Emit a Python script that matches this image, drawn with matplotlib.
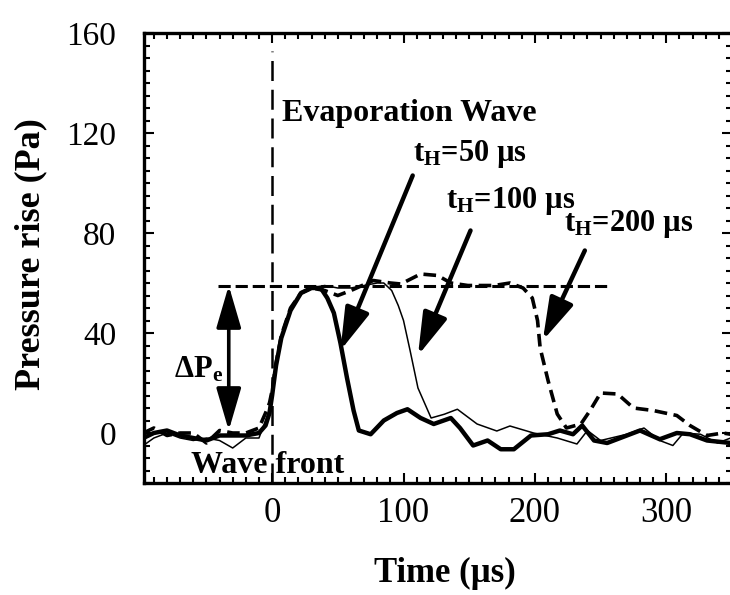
import matplotlib
matplotlib.use("Agg")
import matplotlib.pyplot as plt
from matplotlib.ticker import MultipleLocator

plt.rcParams['font.family'] = ['Liberation Serif', 'DejaVu Serif']
plt.rcParams['mathtext.fontset'] = 'custom'
plt.rcParams['mathtext.rm'] = 'Liberation Serif'
plt.rcParams['mathtext.bf'] = 'Liberation Serif:bold'
plt.rcParams['mathtext.it'] = 'Liberation Serif:italic'

# ---- data ----
t_50 = [-98, -90, -80, -70, -60, -50, -40, -30, -20, -10, -5, -2, 0, 3, 7, 14, 22, 30, 37, 42,
        47, 52, 57, 62, 66, 75, 85, 95, 103, 113, 123, 136, 143, 153, 164, 174, 184, 197, 210,
        219, 229, 236, 245, 255, 270, 280, 295, 308, 318, 331, 349]
p_50 = [-2, 0, 1, -1, -2, -3, -1, -1, -1, 0, 3, 8, 15, 27, 38, 49, 56, 58, 58, 54,
        48, 36, 22, 9, 1, -0.5, 5, 8, 9.5, 6, 3.6, 6, 2, -5, -3, -6.5, -6.5, -1, -0.5,
        1, -0.5, 3, -3, -4, -1, 1, -2.5, 0, -0.5, -3, -4]

t_100 = [-98, -90, -80, -70, -60, -50, -40, -30, -20, -10, -5, -2, 0, 3, 7, 14, 22, 30, 40, 50,
         60, 70, 80, 85, 91, 96, 100, 105, 111, 121, 131, 141, 156, 171, 181, 199, 217, 232,
         240, 250, 270, 283, 295, 305, 313, 326, 339, 349]
p_100 = [-5, -2, 0, -2, -3, -2, -3, -6, -2, -2, 5, 9, 15, 27, 38, 49, 56, 58, 59, 58,
         58, 59, 60, 60, 57, 51, 45, 33, 18, 6, 7.5, 9.5, 3.6, 0.8, 2.8, 0, -2, -4.4,
         1, -3, -0.5, 2, -3, -5, 0, -0.5, -4, -2]

t_200 = [-98, -90, -80, -70, -60, -50, -40, -30, -20, -10, -5, -2, 0, 3, 7, 14, 22, 30, 40, 50,
         60, 77, 90, 98, 113, 126, 136, 149, 169, 181, 191, 198, 202, 204, 210, 217, 224, 235,
         242, 250, 263, 275, 290, 308, 318, 331, 343, 349]
p_200 = [0, 2, -1, 0, 0, -4, 1, 0, 0, 2, 8, 12, 17, 28, 39, 50, 56, 58, 57, 55,
         57, 61, 60, 59.6, 63.6, 63, 60, 59, 59, 60, 58, 54, 45, 34, 21, 7.6, 2, 3.6,
         9, 16, 15.6, 10, 9, 7, 3, -1, 0, -0.5]

level_x = [-41, 257]
level_y = [59, 59]
dpe_x = -33
dpe_top, dpe_bottom = 59, 1

x_ticks = [0, 100, 200, 300]
y_ticks = [0, 40, 80, 120, 160]

# ---- figure ----
fig = plt.figure(figsize=(7.3, 5.95), dpi=100)
ax = fig.add_axes([144 / 730, (595 - 483) / 595, (732 - 144) / 730, (483 - 33) / 595])

ax.plot(t_100, p_100, color='black', lw=1.1, zorder=3)
ax.plot(t_200, p_200, color='black', lw=2.6, linestyle=(0, (3.5, 1.8)), zorder=3)
ax.plot(t_50, p_50, color='black', lw=3.2, zorder=4)

ax.plot(level_x, level_y, color='black', lw=2.2, linestyle=(0, (4, 1.6)), zorder=2)
ax.axvline(0, ymax=(153 + 20) / 180, color='black', lw=1.8, linestyle=(0, (8, 3.5)), zorder=2)

ax.set_xlim(-97.5, 350)
ax.set_ylim(-20, 160)
ax.set_xticks(x_ticks)
ax.set_yticks(y_ticks)
ax.xaxis.set_minor_locator(MultipleLocator(10))
ax.yaxis.set_minor_locator(MultipleLocator(5))
ax.tick_params(which='both', direction='in', top=True, right=True, width=1.5)
ax.tick_params(which='major', length=7)
ax.tick_params(which='minor', length=4)
ax.tick_params(axis='y', which='major', labelsize=24, pad=20)
ax.tick_params(axis='x', which='major', labelsize=25, pad=10)
for s in ax.spines.values():
    s.set_linewidth(2.4)
ax.spines['right'].set_visible(False)

ax.set_xlabel('Time (µs)', fontsize=25, fontweight='bold')
ax.set_ylabel('Pressure rise (Pa)', fontsize=26, fontweight='bold')
ax.xaxis.set_label_coords(0.512, -0.165)
ax.yaxis.set_label_coords(-0.165, 0.509)

# ---- annotations ----
fs = 22
ax.text(7.6, 125, 'Evaporation Wave', fontsize=fs + 1, fontweight='bold', va='baseline')
ax.text(107, 109, r'$\mathbf{t}_{\mathbf{H}}$=50 µs', fontsize=fs, fontweight='bold', va='baseline')
ax.text(132, 90, r'$\mathbf{t}_{\mathbf{H}}$=100 µs', fontsize=fs, fontweight='bold', va='baseline')
ax.text(222, 81, r'$\mathbf{t}_{\mathbf{H}}$=200 µs', fontsize=fs, fontweight='bold', va='baseline')
ax.text(-62, -16, 'Wave front', fontsize=fs + 1, fontweight='bold', va='baseline')
ax.text(-75, 22, r'$\mathbf{\Delta P_e}$', fontsize=fs, va='baseline')

aprops = dict(arrowstyle='-|>,head_length=1.3,head_width=0.38', lw=3.2, color='black',
              mutation_scale=20, shrinkA=0, shrinkB=0)
ax.annotate('', xy=(52, 33), xytext=(107, 103), arrowprops=aprops, zorder=5)
ax.annotate('', xy=(111, 31), xytext=(151, 81), arrowprops=aprops, zorder=5)
ax.annotate('', xy=(206, 37), xytext=(238, 73), arrowprops=aprops, zorder=5)
dprops = dict(arrowstyle='<|-|>,head_length=1.3,head_width=0.38', lw=2.6, color='black',
              mutation_scale=20, shrinkA=0, shrinkB=0)
ax.annotate('', xy=(dpe_x, dpe_bottom), xytext=(dpe_x, dpe_top), arrowprops=dprops, zorder=5)

fig.savefig('out.png', dpi=100)
